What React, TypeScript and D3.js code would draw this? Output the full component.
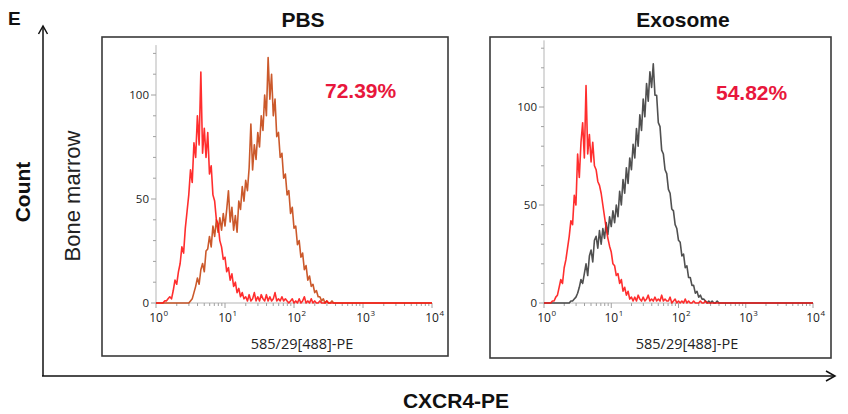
import React from 'react'
import * as d3 from 'd3'

// histogram bins: log10 of intensity, starting at 10^0.1, step 0.025 decade
const LOG_START = 0.1
const LOG_STEP = 0.025
const LOG_MAX = 4

const pbsControl = [
  0, 1, 1, 2, 3, 2, 6, 11, 9, 15,
  19, 27, 24, 36, 44, 52, 64, 58, 77, 70,
  90, 76, 111, 72, 84, 70, 82, 62, 66, 52,
  49, 40, 38, 30, 27, 21, 22, 15, 17, 11,
  14, 8, 10, 5, 7, 3, 5, 2, 3, 1,
  4, 1, 2, 5, 1, 3, 1, 4, 2, 1,
  4, 1, 3, 1, 2, 5, 1, 2, 1, 3,
  1, 2, 1, 0, 1, 2, 0, 1, 0, 2,
  0, 1, 3, 0, 1, 0, 2, 0, 1, 0,
  0, 1, 0, 0, 0, 1, 0, 0, 0, 0,
  0,
]

const pbsCxcr4 = [
  0, 0, 0, 0, 0, 0, 0, 0, 0, 0,
  0, 0, 0, 0, 0, 0, 1, 2, 5, 8,
  12, 9, 16, 19, 15, 25, 26, 32, 27, 37,
  32, 40, 34, 41, 35, 43, 37, 45, 54, 39,
  46, 35, 42, 34, 49, 45, 56, 49, 59, 54,
  65, 86, 64, 76, 69, 82, 75, 90, 83, 100,
  90, 118, 98, 110, 90, 98, 80, 82, 70, 72,
  60, 62, 52, 54, 43, 46, 36, 37, 28, 30,
  22, 24, 16, 18, 11, 13, 8, 9, 5, 6,
  3, 3, 1, 2, 0, 1, 0, 0, 1, 0,
  0,
]

const exoControl = [
  0, 1, 1, 3, 4, 8, 12, 10, 18, 22,
  28, 34, 42, 40, 55, 50, 76, 64, 82, 92,
  74, 111, 76, 86, 72, 82, 70, 68, 62, 60,
  56, 50, 44, 38, 33, 29, 26, 20, 19, 14,
  15, 10, 12, 6, 8, 4, 6, 2, 3, 1,
  3, 1, 4, 2, 1, 3, 1, 2, 4, 1,
  2, 1, 3, 1, 2, 1, 4, 1, 2, 1,
  1, 3, 0, 1, 2, 0, 1, 0, 1, 0,
  2, 0, 1, 0, 0, 1, 0, 0, 0, 1,
  0, 0, 1, 0, 0, 0, 0, 0, 0, 0,
  0,
]

const exoCxcr4 = [
  0, 0, 0, 0, 0, 0, 0, 0, 0, 0,
  0, 0, 1, 1, 2, 3, 5, 8, 12, 10,
  15, 20, 14, 24, 27, 21, 32, 34, 28, 37,
  30, 38, 33, 41, 35, 44, 39, 47, 41, 50,
  44, 57, 50, 63, 56, 69, 61, 74, 68, 81,
  74, 89, 80, 96, 88, 104, 95, 112, 103, 118,
  110, 122, 106, 106, 92, 90, 78, 76, 68, 66,
  58, 56, 48, 47, 40, 38, 32, 31, 24, 25,
  18, 19, 13, 13, 9, 9, 5, 6, 3, 4,
  2, 2, 1, 0, 1, 0, 1, 0, 0, 1,
  0,
]

const decades = [1, 10, 100, 1000, 10000]
const yLabelTicks = [0, 50, 100]
const axisLabel = '585/29[488]-PE'

const FONT = "'Liberation Sans', Arial, sans-serif"
const TICK_FONT = "'Open Sans', 'Liberation Sans', sans-serif"

type Curve = { values: number[]; color: string }

type PanelProps = {
  title: string
  percent: string
  box: [number, number, number, number]
  xRange: [number, number]
  yRange: [number, number] // pixel for 0 and 100
  yTop: number
  titleX: number
  labelX: number
  percentX: number
  percentY: number
  curves: Curve[]
}

const toPoints = (values: number[]): [number, number][] => [
  [0, 0],
  ...values.map((v, i) => [LOG_START + i * LOG_STEP, v] as [number, number]),
  [LOG_MAX, 0],
]

const Panel = ({ title, percent, box, xRange, yRange, yTop, titleX, labelX, percentX, percentY, curves }: PanelProps) => {
  const x = d3.scaleLog().domain([1, 10000]).range(xRange)
  const y = d3.scaleLinear().domain([0, 100]).range(yRange)
  const line = d3
    .line<[number, number]>()
    .x((d) => x(Math.pow(10, d[0])))
    .y((d) => y(d[1]))

  const x0 = xRange[0]
  const y0 = y(0)
  const minorY = d3.range(0, yTop + 1, 10)

  return (
    <g>
      <rect x={box[0]} y={box[1]} width={box[2]} height={box[3]} fill="none" stroke="#3a3a3a" strokeWidth={1.6} />
      <text x={titleX} y={27} textAnchor="middle" fontFamily={FONT} fontWeight="bold" fontSize={21} fill="#111">
        {title}
      </text>

      {/* y axis */}
      <line x1={x0} x2={x0} y1={y0} y2={y(yTop + 4)} stroke="#b5b5b5" strokeWidth={1} />
      {minorY.map((t) => (
        <line key={t} x1={x0 - (t % 50 === 0 ? 5 : 3)} x2={x0} y1={y(t)} y2={y(t)} stroke="#a0a0a0" strokeWidth={1} />
      ))}
      {yLabelTicks.map((t) => (
        <text key={t} x={x0 - 7} y={y(t)} dy="0.35em" textAnchor="end" fontFamily={TICK_FONT} fontSize={11.5} fill="#222">
          {t}
        </text>
      ))}

      {/* x axis */}
      <line x1={x0} x2={xRange[1]} y1={y0} y2={y0} stroke="#b5b5b5" strokeWidth={1} />
      {x.ticks().map((t, i) => {
        const major = decades.includes(t)
        return (
          <line key={i} x1={x(t)} x2={x(t)} y1={y0} y2={y0 + (major ? 5 : 3)} stroke="#a0a0a0" strokeWidth={1} />
        )
      })}
      {decades.map((t, i) => (
        <g key={t} fontFamily={TICK_FONT} fill="#222">
          <text x={x(t)} y={y0 + 19} textAnchor="middle" fontSize={12}>10</text>
          <text x={x(t) + 7.5} y={y0 + 13} fontSize={8}>{i}</text>
        </g>
      ))}
      <text x={labelX} y={349} textAnchor="middle" fontFamily={TICK_FONT} fontSize={14.5} fill="#222">
        {axisLabel}
      </text>

      {curves.map((c, i) => (
        <path
          key={i}
          d={line(toPoints(c.values)) ?? ''}
          fill="none"
          stroke={c.color}
          strokeWidth={1.6}
          strokeLinejoin="round"
          strokeOpacity={0.88}
        />
      ))}

      <text x={percentX} y={percentY} fontFamily={FONT} fontWeight="bold" fontSize={21} fill="#e8173c">
        {percent}
      </text>
    </g>
  )
}

export default function App() {
  return (
    <svg width={848} height={414} style={{ position: 'absolute', left: 0, top: 0, background: '#fff' }}>
      <text x={8} y={25} fontFamily={FONT} fontWeight="bold" fontSize={19} fill="#111">E</text>

      {/* outer arrows */}
      <g stroke="#111" strokeWidth={1.5} fill="none">
        <line x1={43} x2={43} y1={376} y2={26} />
        <polyline points="38.5,34 43,26 47.5,34" />
        <line x1={42} x2={835} y1={376} y2={376} />
        <polyline points="826,371 835,376 826,381" />
      </g>
      <text transform="translate(30,192) rotate(-90)" textAnchor="middle" fontFamily={FONT} fontWeight="bold" fontSize={21} fill="#111">
        Count
      </text>
      <text transform="translate(80,196) rotate(-90)" textAnchor="middle" fontFamily={FONT} fontSize={22} fill="#222">
        Bone marrow
      </text>
      <text x={456} y={408} textAnchor="middle" fontFamily={FONT} fontWeight="bold" fontSize={21} fill="#111">
        CXCR4-PE
      </text>

      <Panel
        title="PBS"
        percent="72.39%"
        box={[102, 37, 346, 319]}
        xRange={[156, 432]}
        yRange={[303, 95]}
        yTop={120}
        titleX={303}
        labelX={302}
        percentX={325}
        percentY={98}
        curves={[
          { values: pbsCxcr4, color: '#c4420e' },
          { values: pbsControl, color: '#ff1111' },
        ]}
      />
      <Panel
        title="Exosome"
        percent="54.82%"
        box={[490, 37, 341, 321]}
        xRange={[544, 813]}
        yRange={[303, 107]}
        yTop={130}
        titleX={683}
        labelX={687}
        percentX={716}
        percentY={100}
        curves={[
          { values: exoCxcr4, color: '#383838' },
          { values: exoControl, color: '#ff1111' },
        ]}
      />
    </svg>
  )
}
